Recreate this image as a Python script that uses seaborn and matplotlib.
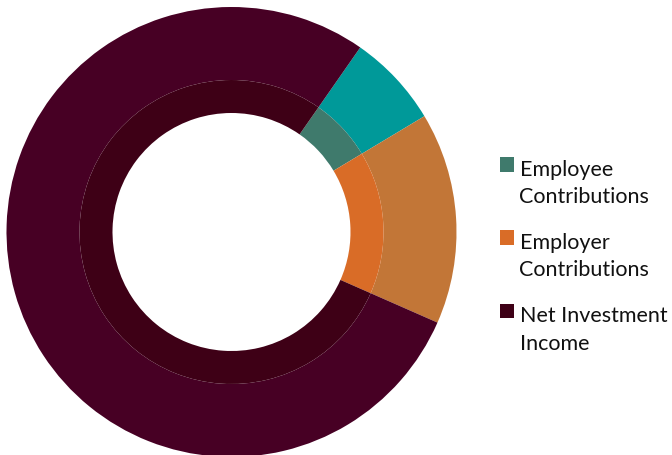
import matplotlib
matplotlib.use("Agg")
import matplotlib.pyplot as plt
import seaborn as sns

categories = ["Employee\nContributions", "Employer\nContributions", "Net Investment\nIncome"]
outer_values = [6.7, 15.2, 78.1]
inner_values = [6.7, 15.2, 78.1]
outer_colors = ["#009999", "#C27637", "#470024"]
inner_colors = ["#3F7A6C", "#D96C27", "#3E0016"]

sns.set_theme(style="white")
plt.rcParams["font.family"] = ["Lato", "DejaVu Sans"]

W, H = 672, 456
fig = plt.figure(figsize=(W / 100, H / 100), dpi=100)
cx, cy, R = 231.5, 456 - 233, 225
ax = fig.add_axes([(cx - R) / W, (cy - R) / H, 2 * R / W, 2 * R / H])

start = 55.1
ax.pie(outer_values, radius=1.0, startangle=start, counterclock=False,
       colors=outer_colors, wedgeprops=dict(width=1 - 152 / R, linewidth=0))
ax.pie(inner_values, radius=152 / R, startangle=start, counterclock=False,
       colors=inner_colors, wedgeprops=dict(width=(152 - 119) / R, linewidth=0))
ax.set_xlim(-1, 1)
ax.set_ylim(-1, 1)
ax.set_aspect("equal")
ax.axis("off")

# legend (manual layout, pixel coordinates from top)
base0, entry_step, line_step = 175.5, 73.3, 27.5
sq_x, sq_size, text_x = 499.5, 14.5, 519.5
for i, (label, color) in enumerate(zip(categories, inner_colors)):
    base = base0 + i * entry_step
    fig.patches.append(plt.Rectangle((sq_x / W, 1 - (base - 3) / H), sq_size / W, sq_size / H,
                                     transform=fig.transFigure, facecolor=color, edgecolor="none"))
    for j, line in enumerate(label.split("\n")):
        fig.text(text_x / W, 1 - (base + j * line_step) / H, line, fontsize=15.5,
                 color="#111111", ha="left", va="baseline")

fig.savefig("out.png", dpi=100)
